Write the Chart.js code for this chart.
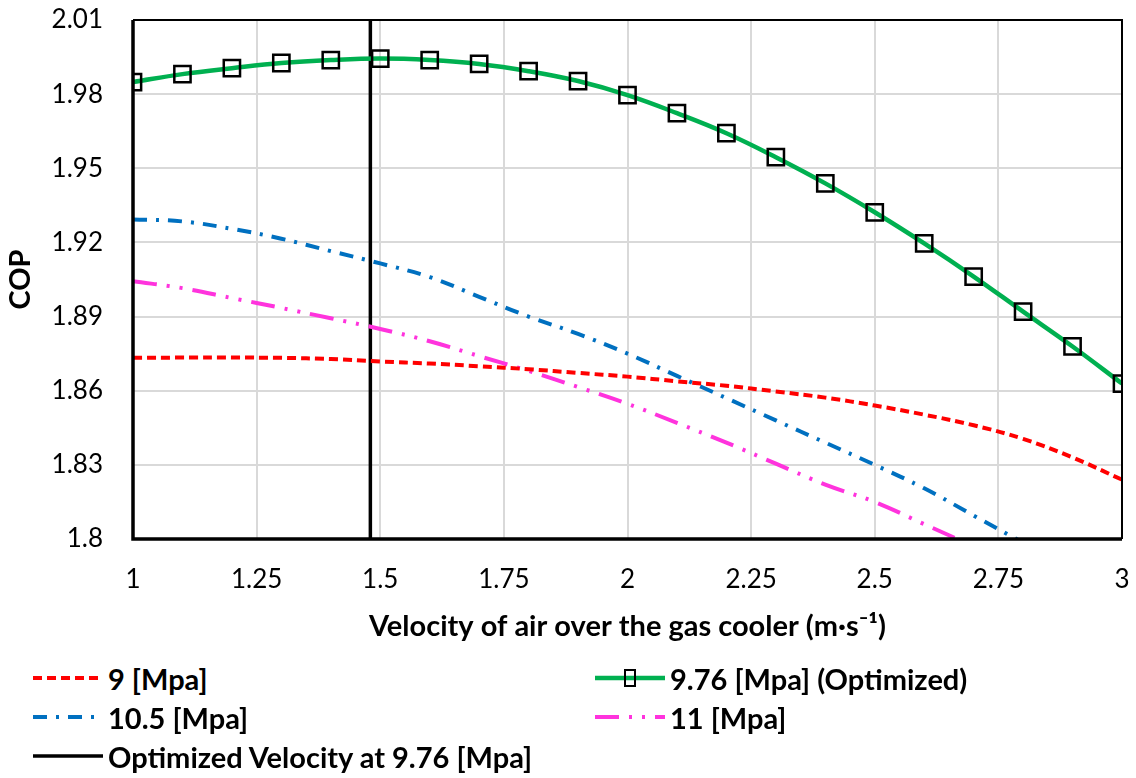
<!DOCTYPE html>
<html>
<head>
<meta charset="utf-8">
<script src="https://cdn.jsdelivr.net/npm/chart.js@4.4.1/dist/chart.umd.min.js"></script>
<style>
  html, body { margin: 0; padding: 0; background: #fff; }
  #wrap { position: relative; width: 1136px; height: 778px; }
  #chart { position: absolute; left: 0; top: 0; }
  #legend {
    position: absolute; left: 33px; top: 662px;
    display: grid; grid-template-columns: 562px 500px; row-gap: 7px;
    font-family: Lato, sans-serif; font-weight: bold; font-size: 29px; color: #000;
  }
  .item { display: flex; align-items: center; height: 32px; white-space: nowrap; }
  .item canvas { margin-right: 5px; }
</style>
</head>
<body>
<div id="wrap">
  <canvas id="chart" width="1136" height="650"></canvas>
  <div id="legend"></div>
</div>
<script>
// velocity of air (m/s)
const velocity = [1, 1.1, 1.2, 1.3, 1.4, 1.5, 1.6, 1.7, 1.8, 1.9, 2, 2.1, 2.2, 2.3, 2.4, 2.5, 2.6, 2.7, 2.8, 2.9, 3];

const cop9 = [1.8733, 1.8734, 1.8734, 1.8733, 1.8728, 1.8718, 1.8710, 1.8699, 1.8687, 1.8672, 1.8657,
  1.8638, 1.8620, 1.8597, 1.8572, 1.8540, 1.8503, 1.8460, 1.8405, 1.8330, 1.8240];
const cop976 = [1.9849, 1.9881, 1.9905, 1.9926, 1.9938, 1.9944, 1.9938, 1.9922, 1.9893, 1.9853, 1.9796,
  1.9723, 1.9642, 1.9545, 1.9439, 1.9322, 1.9196, 1.9062, 1.8920, 1.8779, 1.8629];
const cop105 = [1.9293, 1.9285, 1.9255, 1.9215, 1.9165, 1.9115, 1.9060, 1.8980, 1.8900, 1.8830, 1.8750,
  1.8660, 1.8570, 1.8480, 1.8390, 1.8300, 1.8205, 1.8095, 1.7985];
const cop11 = [1.9043, 1.9015, 1.8975, 1.8935, 1.8893, 1.8850, 1.8800, 1.8740, 1.8680, 1.8615, 1.8547,
  1.8470, 1.8390, 1.8305, 1.8220, 1.8150, 1.8060, 1.7970];

const optVelocity = 1.48;
const optLineY = [1.8, 2.01];

const xTicks = [1, 1.25, 1.5, 1.75, 2, 2.25, 2.5, 2.75, 3];
const yTicks = [1.8, 1.83, 1.86, 1.89, 1.92, 1.95, 1.98, 2.01];

const pts = (xs, ys) => ys.map((y, i) => ({ x: xs[i], y: y }));

// black frame round the plot area
const frame = {
  id: 'frame',
  afterDatasetsDraw(chart) {
    const { ctx, chartArea: a } = chart;
    ctx.save();
    ctx.strokeStyle = '#000';
    ctx.lineWidth = 2;
    ctx.beginPath();
    ctx.moveTo(a.left, a.top); ctx.lineTo(a.right, a.top); ctx.lineTo(a.right, a.bottom);
    ctx.stroke();
    ctx.lineWidth = 3.5;
    ctx.beginPath();
    ctx.moveTo(a.left, a.top); ctx.lineTo(a.left, a.bottom); ctx.lineTo(a.right, a.bottom);
    ctx.stroke();
    ctx.restore();
  }
};

const font = 'Lato';

const chart = new Chart(document.getElementById('chart').getContext('2d'), {
  type: 'line',
  data: {
    datasets: [
      {
        label: '9 [Mpa]',
        data: pts(velocity, cop9),
        borderColor: '#ff0000',
        borderWidth: 4,
        borderDash: [9, 5],
        pointRadius: 0,
        tension: 0.4
      },
      {
        label: '9.76 [Mpa] (Optimized)',
        data: pts(velocity, cop976),
        borderColor: '#00b050',
        borderWidth: 4.5,
        pointStyle: 'rect',
        pointRadius: 11.5,
        pointBorderColor: '#000',
        pointBorderWidth: 2.5,
        pointBackgroundColor: 'rgba(0,0,0,0)',
        tension: 0.4
      },
      {
        label: '10.5 [Mpa]',
        data: pts(velocity, cop105),
        borderColor: '#0070c0',
        borderWidth: 4,
        borderDash: [14, 9, 3, 9],
        pointRadius: 0,
        tension: 0.4
      },
      {
        label: '11 [Mpa]',
        data: pts(velocity, cop11),
        borderColor: '#ff33dd',
        borderWidth: 4,
        borderDash: [24, 10, 3, 10, 3, 10],
        pointRadius: 0,
        tension: 0.4
      },
      {
        label: 'Optimized Velocity at 9.76 [Mpa]',
        data: optLineY.map(y => ({ x: optVelocity, y: y })),
        borderColor: '#000',
        borderWidth: 3.5,
        pointRadius: 0
      }
    ]
  },
  options: {
    responsive: false,
    animation: false,
    layout: { autoPadding: false, padding: { top: 20, right: 14, left: 0, bottom: 0 } },
    plugins: {
      legend: { display: false },
      tooltip: { enabled: false }
    },
    scales: {
      x: {
        type: 'linear',
        min: 1,
        max: 3,
        afterBuildTicks: s => { s.ticks = xTicks.map(v => ({ value: v })); },
        afterFit: s => {
          s.height = 650 - 539;
          s.paddingLeft = 0;
          s.paddingRight = 0;
        },
        grid: { color: '#d9d9d9', lineWidth: 2, drawTicks: false },
        border: { display: false },
        ticks: { padding: 25, color: '#000', font: { family: font, size: 26 }, callback: v => String(v) },
        title: {
          display: true,
          text: 'Velocity of air over the gas cooler (m·s⁻¹)',
          color: '#000',
          font: { family: font, size: 29, weight: 'bold' },
          padding: { top: 0, bottom: 6 }
        }
      },
      y: {
        min: 1.8,
        max: 2.01,
        afterBuildTicks: s => { s.ticks = yTicks.map(v => ({ value: v })); },
        afterFit: s => {
          s.width = 133;
          s.paddingTop = 0;
          s.paddingBottom = 0;
        },
        grid: { color: '#d9d9d9', lineWidth: 2, drawTicks: false },
        border: { display: false },
        ticks: { padding: 30, color: '#000', font: { family: font, size: 26 }, callback: v => String(v) },
        title: {
          display: true,
          text: 'COP',
          color: '#000',
          font: { family: font, size: 29, weight: 'bold' },
          padding: { top: 3, bottom: 0 }
        }
      }
    }
  },
  plugins: [frame]
});

// html legend built from the datasets
const legend = document.getElementById('legend');
chart.data.datasets.forEach(ds => {
  const item = document.createElement('div');
  item.className = 'item';
  const c = document.createElement('canvas');
  c.width = 70; c.height = 24;
  const g = c.getContext('2d');
  g.strokeStyle = ds.borderColor;
  g.lineWidth = ds.borderWidth;
  g.setLineDash(ds.borderDash || []);
  g.beginPath(); g.moveTo(0, 12); g.lineTo(70, 12); g.stroke();
  if (ds.pointStyle === 'rect') {
    g.setLineDash([]);
    g.strokeStyle = ds.pointBorderColor;
    g.lineWidth = 2;
    g.strokeRect(30, 4, 10, 16);
  }
  const t = document.createElement('span');
  t.textContent = ds.label;
  item.appendChild(c);
  item.appendChild(t);
  legend.appendChild(item);
});
</script>
</body>
</html>
